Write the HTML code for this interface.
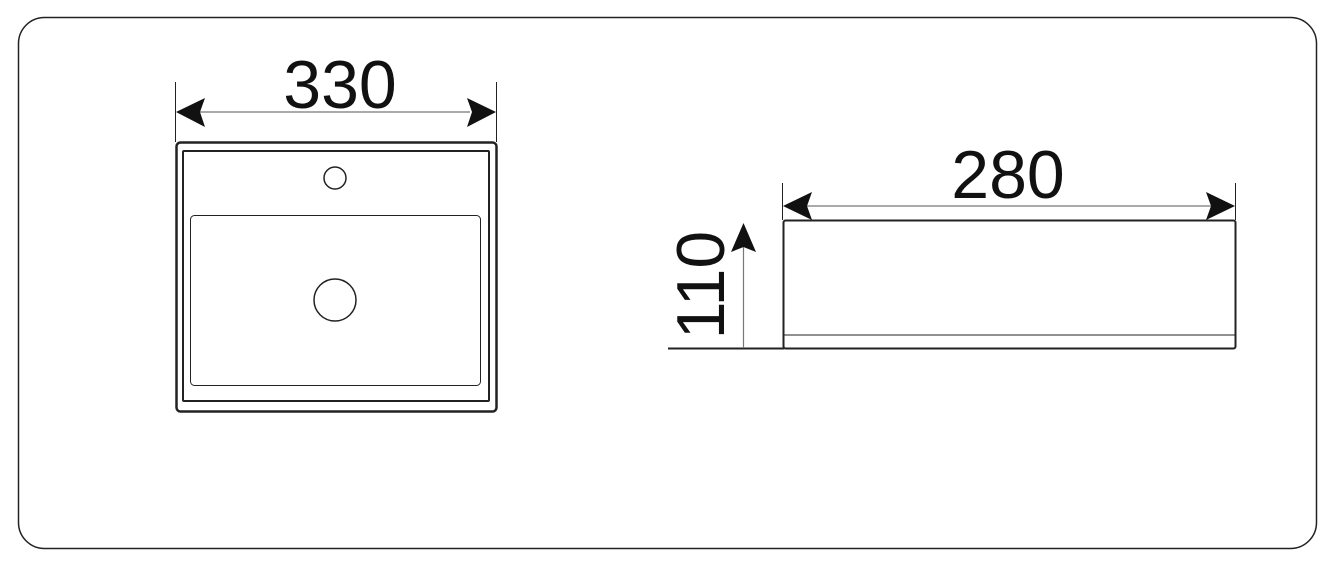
<!DOCTYPE html>
<html><head><style>html,body{margin:0;padding:0;background:#fff}svg{display:block}</style></head>
<body>
<svg width="1335" height="567" viewBox="0 0 1335 567" xmlns="http://www.w3.org/2000/svg">
<rect x="18.5" y="17.5" width="1298" height="531" rx="26" fill="#fff" stroke="#222" stroke-width="1.5"/>
<g stroke="#222" fill="none">
<line x1="175.5" y1="82" x2="175.5" y2="142" stroke-width="1"/>
<line x1="496.5" y1="82" x2="496.5" y2="142" stroke-width="1"/>
<line x1="200" y1="112" x2="470" y2="112" stroke="#777" stroke-width="1.2"/>
<rect x="176.5" y="142.5" width="320" height="269" rx="4" stroke-width="2.5"/>
<rect x="183" y="151" width="306" height="250" rx="1" stroke-width="2"/>
<rect x="190.5" y="215.5" width="290" height="170" rx="4" stroke-width="1"/>
<circle cx="335" cy="178" r="11" stroke-width="1.5"/>
<circle cx="335" cy="300" r="21" stroke-width="1.5"/>
<line x1="782.5" y1="183" x2="782.5" y2="220" stroke-width="1"/>
<line x1="1235.5" y1="183" x2="1235.5" y2="220" stroke-width="1"/>
<line x1="805" y1="206" x2="1212" y2="206" stroke="#777" stroke-width="1.2"/>
<rect x="783.5" y="220.5" width="452" height="128" rx="2" stroke-width="2"/>
<line x1="784" y1="335" x2="1235" y2="335" stroke-width="1"/>
<line x1="668" y1="348.5" x2="784" y2="348.5" stroke-width="2"/>
<line x1="743.5" y1="245" x2="743.5" y2="348" stroke="#777" stroke-width="1.2"/>
</g>
<g fill="#111">
<path d="M176 112 L205 98 L200 112 L205 127 Z"/>
<path d="M496 112 L467 98 L472 112 L467 127 Z"/>
<path d="M783 206 L812 192 L807 206 L812 220 Z"/>
<path d="M1235 206 L1206 192 L1211 206 L1206 220 Z"/>
<path d="M743.5 223 L731 252 L743.5 247 L756 252 Z"/>
</g>
<g font-family="Liberation Sans, sans-serif" font-size="68" fill="#111" text-anchor="middle">
<text x="340" y="108">330</text>
<text x="1008" y="198">280</text>
<text transform="translate(724 285) rotate(-90)" x="0" y="0">110</text>
</g>
</svg>
</body></html>
